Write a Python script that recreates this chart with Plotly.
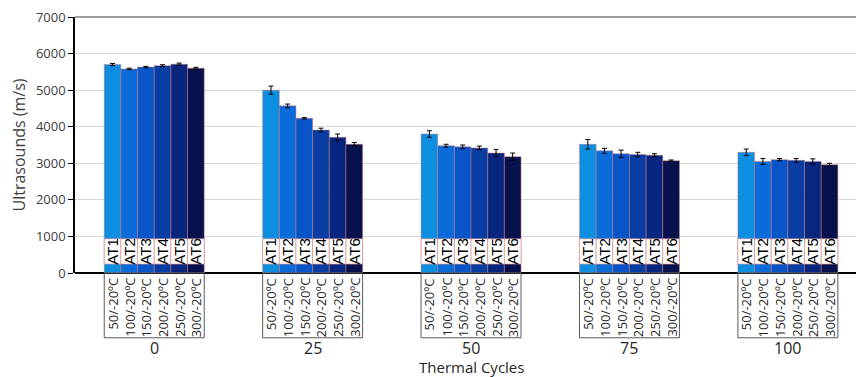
import plotly.graph_objects as go

# Thermal cycles (main categories) and the six treatments in each group
cycles = ["0", "25", "50", "75", "100"]
series_names = ["AT1", "AT2", "AT3", "AT4", "AT5", "AT6"]
temp_labels = ["50/-20ºC", "100/-20ºC", "150/-20ºC", "200/-20ºC", "250/-20ºC", "300/-20ºC"]

# Ultrasound velocity (m/s) per treatment, one value per cycle count
at1 = [5700, 5000, 3800, 3520, 3300]
at2 = [5580, 4570, 3480, 3340, 3050]
at3 = [5630, 4230, 3450, 3260, 3100]
at4 = [5670, 3910, 3420, 3240, 3080]
at5 = [5710, 3710, 3280, 3220, 3050]
at6 = [5600, 3520, 3180, 3070, 2960]

# Standard deviations (m/s)
at1_err = [30, 110, 90, 130, 90]
at2_err = [20, 50, 40, 70, 80]
at3_err = [20, 20, 50, 100, 30]
at4_err = [25, 50, 50, 60, 50]
at5_err = [30, 90, 100, 40, 70]
at6_err = [25, 50, 100, 20, 40]

values = [at1, at2, at3, at4, at5, at6]
errors = [at1_err, at2_err, at3_err, at4_err, at5_err, at6_err]

colors = ["#0D8EE0", "#0A6BDB", "#0755C8", "#083DA3", "#07267F", "#06114D"]

# white in-bar label boxes (value range on the y axis)
LABEL_BASE = 245
LABEL_TOP = 935

BARGAP = 0.369
FONT = "Open Sans, Arial, sans-serif"

xs = list(range(len(cycles)))
group_w = 1 - BARGAP
bar_w = group_w / len(series_names)

fig = go.Figure()

for j, name in enumerate(series_names):
    fig.add_trace(go.Bar(
        x=xs, y=values[j], name=name, offsetgroup=str(j),
        marker=dict(color=colors[j], line=dict(color="rgba(205,120,120,0.7)", width=0.7)),
        error_y=dict(type="data", array=errors[j], color="black", thickness=1, width=2.5),
        showlegend=False,
    ))

for j, name in enumerate(series_names):
    fig.add_trace(go.Bar(
        x=xs, y=[LABEL_TOP - LABEL_BASE] * len(xs), base=[LABEL_BASE] * len(xs),
        offsetgroup=str(j),
        marker=dict(color="white", line=dict(color="rgba(215,140,140,0.9)", width=0.7)),
        text=[name] * len(xs), textposition="inside", insidetextanchor="middle",
        textangle=-90, textfont=dict(family="Arial, Liberation Sans", size=15, color="black"),
        hoverinfo="skip", showlegend=False,
    ))

annotations = []
shapes = []
for i, c in enumerate(cycles):
    # outlined box holding the temperature labels under each group
    shapes.append(dict(type="rect", xref="x", yref="paper",
                       x0=i - group_w / 2, x1=i + group_w / 2, y0=-0.253, y1=0,
                       line=dict(color="#595959", width=1), fillcolor="rgba(0,0,0,0)"))
    for j, t in enumerate(temp_labels):
        annotations.append(dict(
            x=i - group_w / 2 + bar_w * (j + 0.5), y=0, xref="x", yref="paper",
            text=t, textangle=-90, showarrow=False, yanchor="top", xanchor="center",
            yshift=-3, font=dict(family=FONT, size=13, color="#262626")))
    annotations.append(dict(x=i, y=-0.292, xref="x", yref="paper", text=c,
                            showarrow=False, yanchor="middle",
                            font=dict(family=FONT, size=16, color="#262626")))

annotations.append(dict(x=2, y=-0.366, xref="x", yref="paper", text="Thermal Cycles",
                        showarrow=False, yanchor="middle",
                        font=dict(family=FONT, size=15, color="#262626")))

# top border of the plotting area
shapes.append(dict(type="line", xref="paper", yref="paper", x0=0, x1=1, y0=1, y1=1,
                   line=dict(color="#7f7f7f", width=1.5)))

fig.update_layout(
    width=856, height=377,
    margin=dict(l=75, r=0, t=17, b=104),
    barmode="group", bargap=BARGAP, bargroupgap=0,
    plot_bgcolor="white", paper_bgcolor="white",
    annotations=annotations, shapes=shapes,
    uniformtext=dict(minsize=15, mode="show"),
    font=dict(family=FONT, color="#404040"),
)

fig.update_xaxes(range=[-0.5, 4.43], showticklabels=False, showgrid=False,
                 zeroline=False, showline=False, ticks="")
fig.update_yaxes(range=[0, 7000], dtick=1000, showgrid=True, gridcolor="#d9d9d9",
                 gridwidth=1, zeroline=True, zerolinecolor="black", zerolinewidth=2,
                 showline=True, linecolor="black", linewidth=1.5,
                 ticks="outside", ticklen=5, tickcolor="black", tickwidth=1,
                 tickfont=dict(family=FONT, size=13, color="#404040"),
                 title=dict(text="Ultrasounds (m/s)", standoff=6,
                            font=dict(family=FONT, size=16, color="#404040")))

fig.write_html("out.html")
